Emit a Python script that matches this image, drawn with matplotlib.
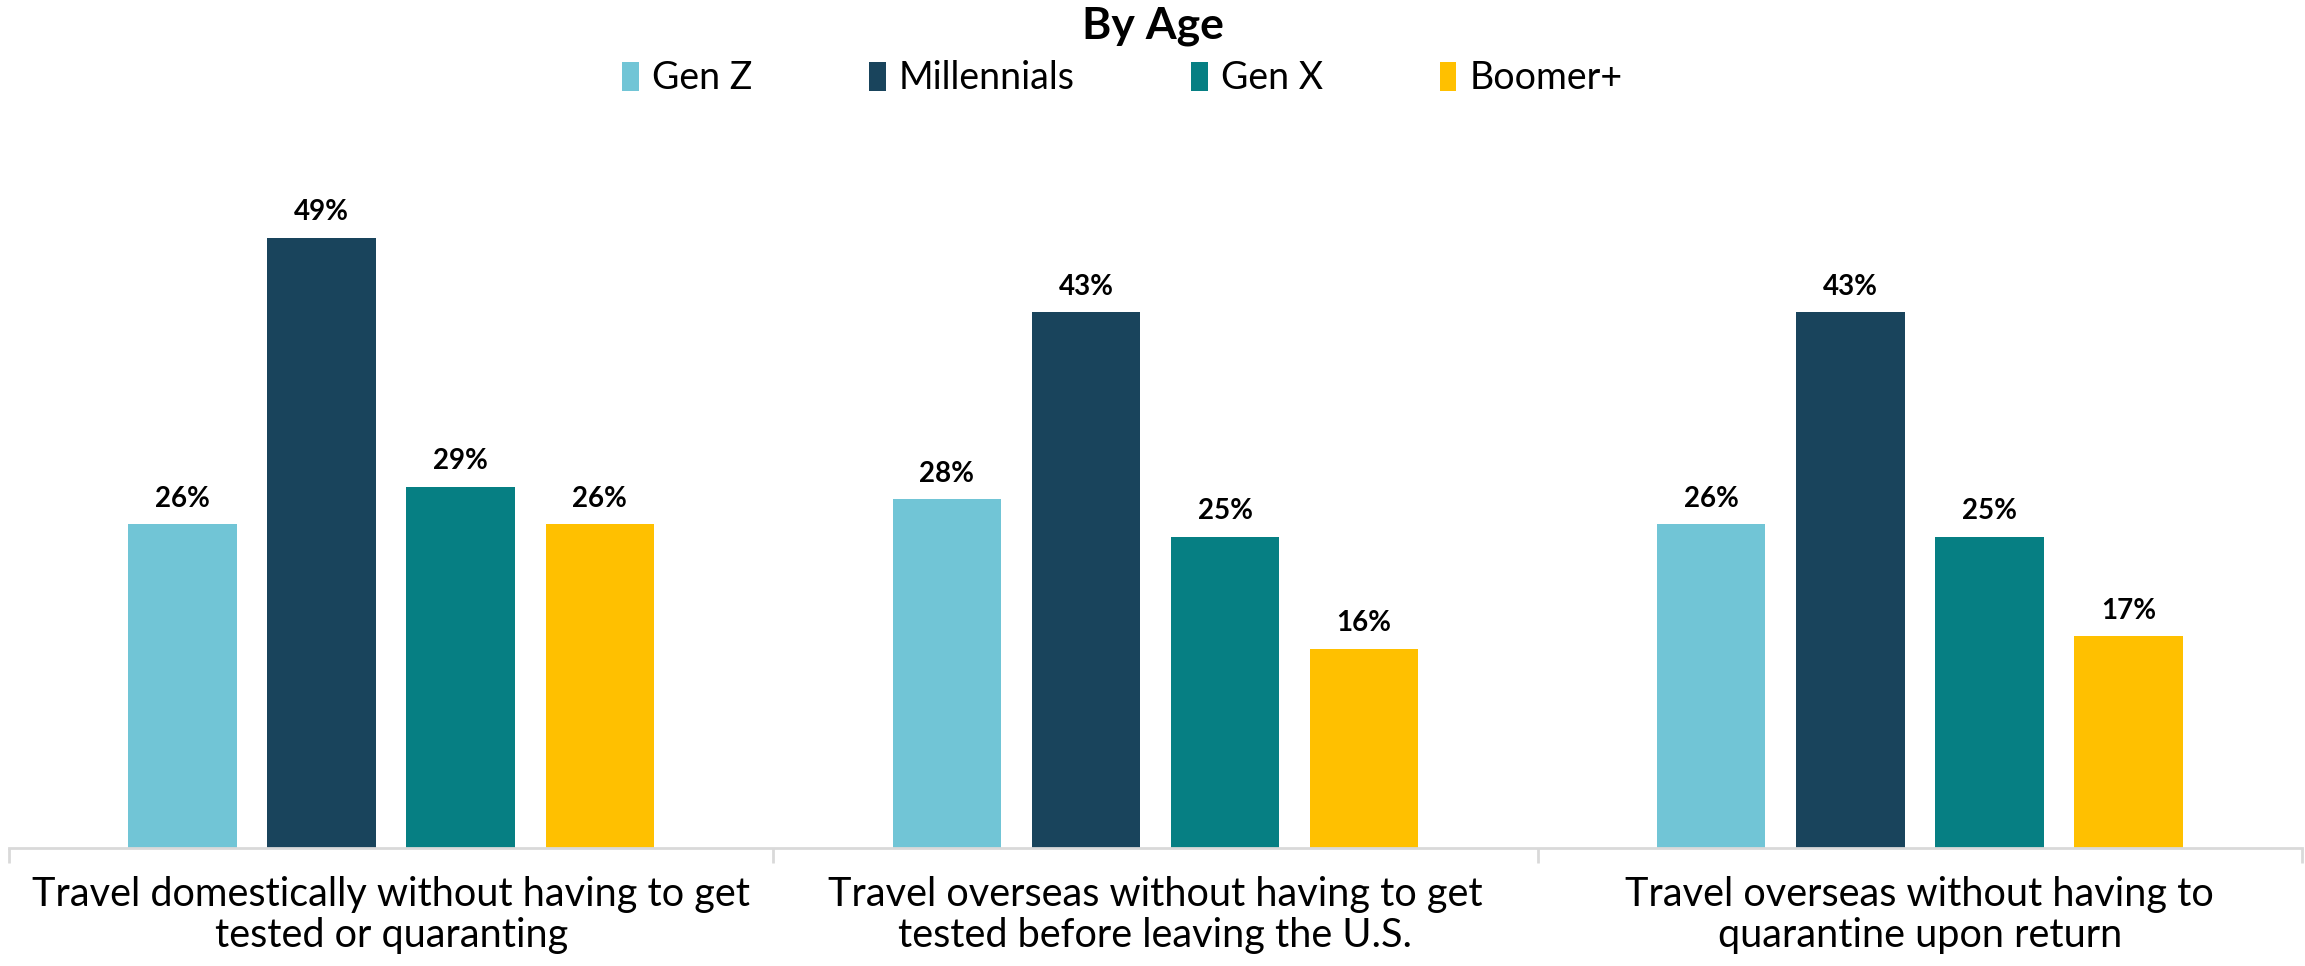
import matplotlib
matplotlib.use("Agg")
import matplotlib.pyplot as plt
import numpy as np

plt.rcParams["font.family"] = ["Lato", "DejaVu Sans"]

categories = [
    "Travel domestically without having to get\ntested or quaranting",
    "Travel overseas without having to get\ntested before leaving the U.S.",
    "Travel overseas without having to\nquarantine upon return",
]
series_names = ["Gen Z", "Millennials", "Gen X", "Boomer+"]
gen_z = [26, 28, 26]
millennials = [49, 43, 43]
gen_x = [29, 25, 25]
boomer = [26, 16, 17]
colors = ["#71C5D6", "#19445C", "#067F83", "#FFC000"]

series = [gen_z, millennials, gen_x, boomer]

fig = plt.figure(figsize=(23.05, 9.66), dpi=100)
ax = fig.add_axes([0.0039, 0.1222, 0.9948, 0.709])

x = np.arange(len(categories))
width = 0.142
pitch = 0.182
for i, (name, vals, col) in enumerate(zip(series_names, series, colors)):
    pos = x + (i - 1.5) * pitch
    bars = ax.bar(pos, vals, width, color=col, label=name)
    for b, v in zip(bars, vals):
        ax.annotate(f"{v}%", (b.get_x() + b.get_width() / 2, v),
                    xytext=(0, 9), textcoords="offset points",
                    ha="center", va="bottom", fontsize=20, fontweight="bold")

ax.set_xlim(-0.5, len(categories) - 0.5)
ax.set_ylim(0, 55)
ax.set_yticks([])
for s in ["top", "right", "left"]:
    ax.spines[s].set_visible(False)
ax.spines["bottom"].set_color("#D9D9D9")
ax.spines["bottom"].set_linewidth(2)

ax.set_xticks(x)
ax.set_xticklabels(categories, fontsize=28.5, linespacing=1.15)
ax.tick_params(axis="x", which="major", length=0, pad=20)
ax.set_xticks(np.arange(-0.5, len(categories)), minor=True)
ax.tick_params(axis="x", which="minor", length=11, width=2, color="#D9D9D9")

fig.text(0.5, 0.973, "By Age", ha="center", va="center", fontsize=32, fontweight="bold")
fig.legend(loc="center", bbox_to_anchor=(0.487, 0.919), ncol=4, frameon=False,
           fontsize=27, handlelength=0.45, handleheight=0.8, handletextpad=0.35,
           columnspacing=3.1)

fig.savefig("out.png", dpi=100)
